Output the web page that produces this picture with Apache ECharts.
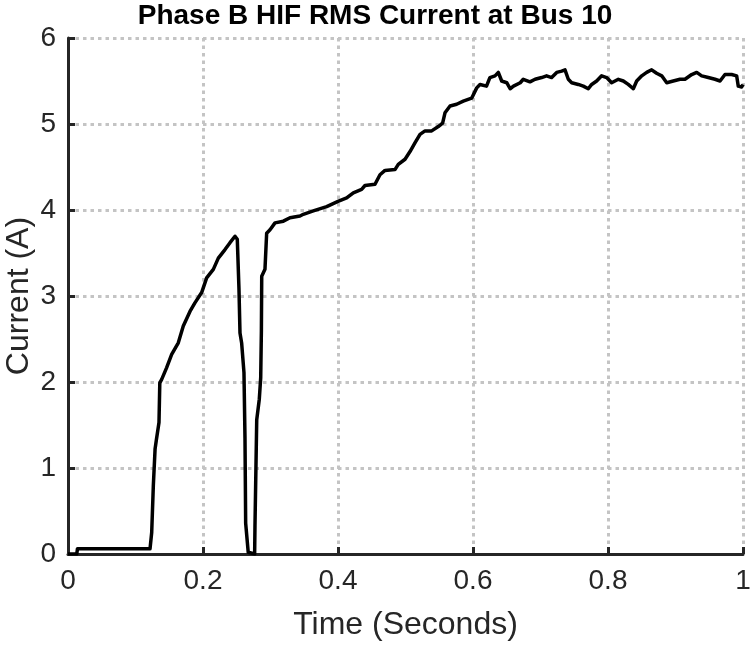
<!DOCTYPE html>
<html>
<head>
<meta charset="utf-8">
<script src="https://cdn.jsdelivr.net/npm/echarts@6/dist/echarts.min.js"></script>
<style>
html,body{margin:0;padding:0;background:#fff;}
#chart{width:750px;height:646px;}
</style>
</head>
<body>
<div id="chart"></div>
<script>
const titleText = 'Phase B HIF RMS Current at Bus 10';
const xAxisName = 'Time (Seconds)';
const yAxisName = 'Current (A)';
const xTicks = [0, 0.2, 0.4, 0.6, 0.8, 1];
const yTicks = [0, 1, 2, 3, 4, 5, 6];

const timeSec = [
  0, 0.013, 0.014, 0.1215, 0.124, 0.1264, 0.129, 0.131, 0.1348, 0.136,
  0.1388, 0.146, 0.1536, 0.1634, 0.1708, 0.1807, 0.188, 0.198, 0.2054, 0.2153,
  0.2227, 0.2326, 0.24, 0.2474, 0.2508, 0.2533, 0.2548, 0.2573, 0.2607, 0.2622,
  0.2632, 0.267, 0.2765, 0.277, 0.2796, 0.2834, 0.2855, 0.2865, 0.287, 0.2918,
  0.2943, 0.2993, 0.3067, 0.319, 0.3289, 0.3437, 0.3486, 0.3634, 0.3832, 0.4,
  0.4128, 0.4227, 0.435, 0.44, 0.4548, 0.4622, 0.4696, 0.4844, 0.4893, 0.4993,
  0.5067, 0.514, 0.5215, 0.5289, 0.5388, 0.5486, 0.555, 0.5585, 0.566, 0.5758,
  0.5856, 0.598, 0.6055, 0.6104, 0.62, 0.625, 0.6326, 0.6375, 0.6425, 0.65,
  0.655, 0.66, 0.67, 0.6745, 0.6844, 0.692, 0.7017, 0.709, 0.7165, 0.724,
  0.7314, 0.7363, 0.7412, 0.7462, 0.756, 0.7634, 0.7708, 0.7758, 0.7832, 0.7906,
  0.798, 0.8054, 0.8153, 0.8227, 0.83, 0.8375, 0.8425, 0.85, 0.8573, 0.8647,
  0.872, 0.8796, 0.887, 0.8967, 0.9067, 0.914, 0.924, 0.9314, 0.9388, 0.9486,
  0.9585, 0.966, 0.9733, 0.9832, 0.9906, 0.993, 0.998, 1.0
];
const currentA = [
  0, 0, 0.06, 0.06, 0.25, 0.79, 1.22, 1.33, 1.53, 1.99,
  2.03, 2.165, 2.32, 2.456, 2.65, 2.82, 2.92, 3.04, 3.21, 3.31,
  3.44, 3.54, 3.62, 3.695, 3.66, 3.08, 2.57, 2.45, 2.11, 1.35,
  0.36, 0.02, 0, 0.32, 1.56, 1.80, 2.05, 2.6, 3.23, 3.31,
  3.73, 3.77, 3.85, 3.87, 3.91, 3.93, 3.95, 3.99, 4.04, 4.10,
  4.14, 4.20, 4.24, 4.285, 4.30, 4.41, 4.46, 4.47, 4.53, 4.59,
  4.68, 4.78, 4.88, 4.92, 4.92, 4.97, 5.01, 5.13, 5.21, 5.23,
  5.265, 5.30, 5.42, 5.46, 5.44, 5.54, 5.56, 5.60, 5.50, 5.48,
  5.41, 5.44, 5.48, 5.52, 5.49, 5.52, 5.54, 5.56, 5.54, 5.60,
  5.615, 5.63, 5.52, 5.48, 5.46, 5.44, 5.41, 5.46, 5.50, 5.56,
  5.54, 5.48, 5.52, 5.50, 5.46, 5.41, 5.50, 5.56, 5.60, 5.63,
  5.59, 5.56, 5.48, 5.50, 5.52, 5.52, 5.575, 5.60, 5.56, 5.54,
  5.52, 5.50, 5.575, 5.575, 5.56, 5.44, 5.43, 5.46
];

const seriesData = timeSec.map((t, i) => [t, currentA[i]]);
const FONT = '"Liberation Sans", Arial, Helvetica, sans-serif';
const AX = '#262626';

const chart = echarts.init(document.getElementById('chart'), null, {renderer: 'canvas'});
chart.setOption({
  animation: false,
  backgroundColor: '#ffffff',
  title: {
    text: titleText,
    left: 'center',
    top: 2,
    padding: 0,
    textStyle: {fontFamily: FONT, fontSize: 28, fontWeight: 'bold', color: '#000000'}
  },
  grid: {left: 68, right: 7, top: 38, bottom: 92, containLabel: false, outerBoundsMode: 'none'},
  xAxis: {
    type: 'value',
    min: xTicks[0],
    max: xTicks[xTicks.length - 1],
    interval: 0.2,
    name: xAxisName,
    nameLocation: 'middle',
    nameGap: 55,
    nameMoveOverlap: false,
    nameTextStyle: {fontFamily: FONT, fontSize: 32, color: AX},
    axisLine: {show: true, onZero: false, lineStyle: {color: AX, width: 3}},
    axisTick: {show: true, inside: true, length: 7, lineStyle: {color: AX, width: 3}},
    axisLabel: {fontFamily: FONT, fontSize: 28, color: AX, margin: 13,
      formatter: v => String(v)},
    splitLine: {show: true, lineStyle: {color: '#c4c4c4', width: 3, type: [3.5, 4]}}
  },
  yAxis: {
    type: 'value',
    min: yTicks[0],
    max: yTicks[yTicks.length - 1],
    interval: 1,
    name: yAxisName,
    nameLocation: 'middle',
    nameGap: 33,
    nameMoveOverlap: false,
    nameTextStyle: {fontFamily: FONT, fontSize: 32, color: AX},
    axisLine: {show: true, onZero: false, lineStyle: {color: AX, width: 3}},
    axisTick: {show: true, inside: true, length: 7, lineStyle: {color: AX, width: 3}},
    axisLabel: {fontFamily: FONT, fontSize: 28, color: AX, margin: 12},
    splitLine: {show: true, lineStyle: {color: '#c4c4c4', width: 3, type: [3.5, 4]}}
  },
  series: [{
    type: 'line',
    data: seriesData,
    showSymbol: false,
    symbol: 'none',
    clip: true,
    lineStyle: {color: '#000000', width: 3.5, join: 'round'},
    z: 5
  }]
});
</script>
</body>
</html>
